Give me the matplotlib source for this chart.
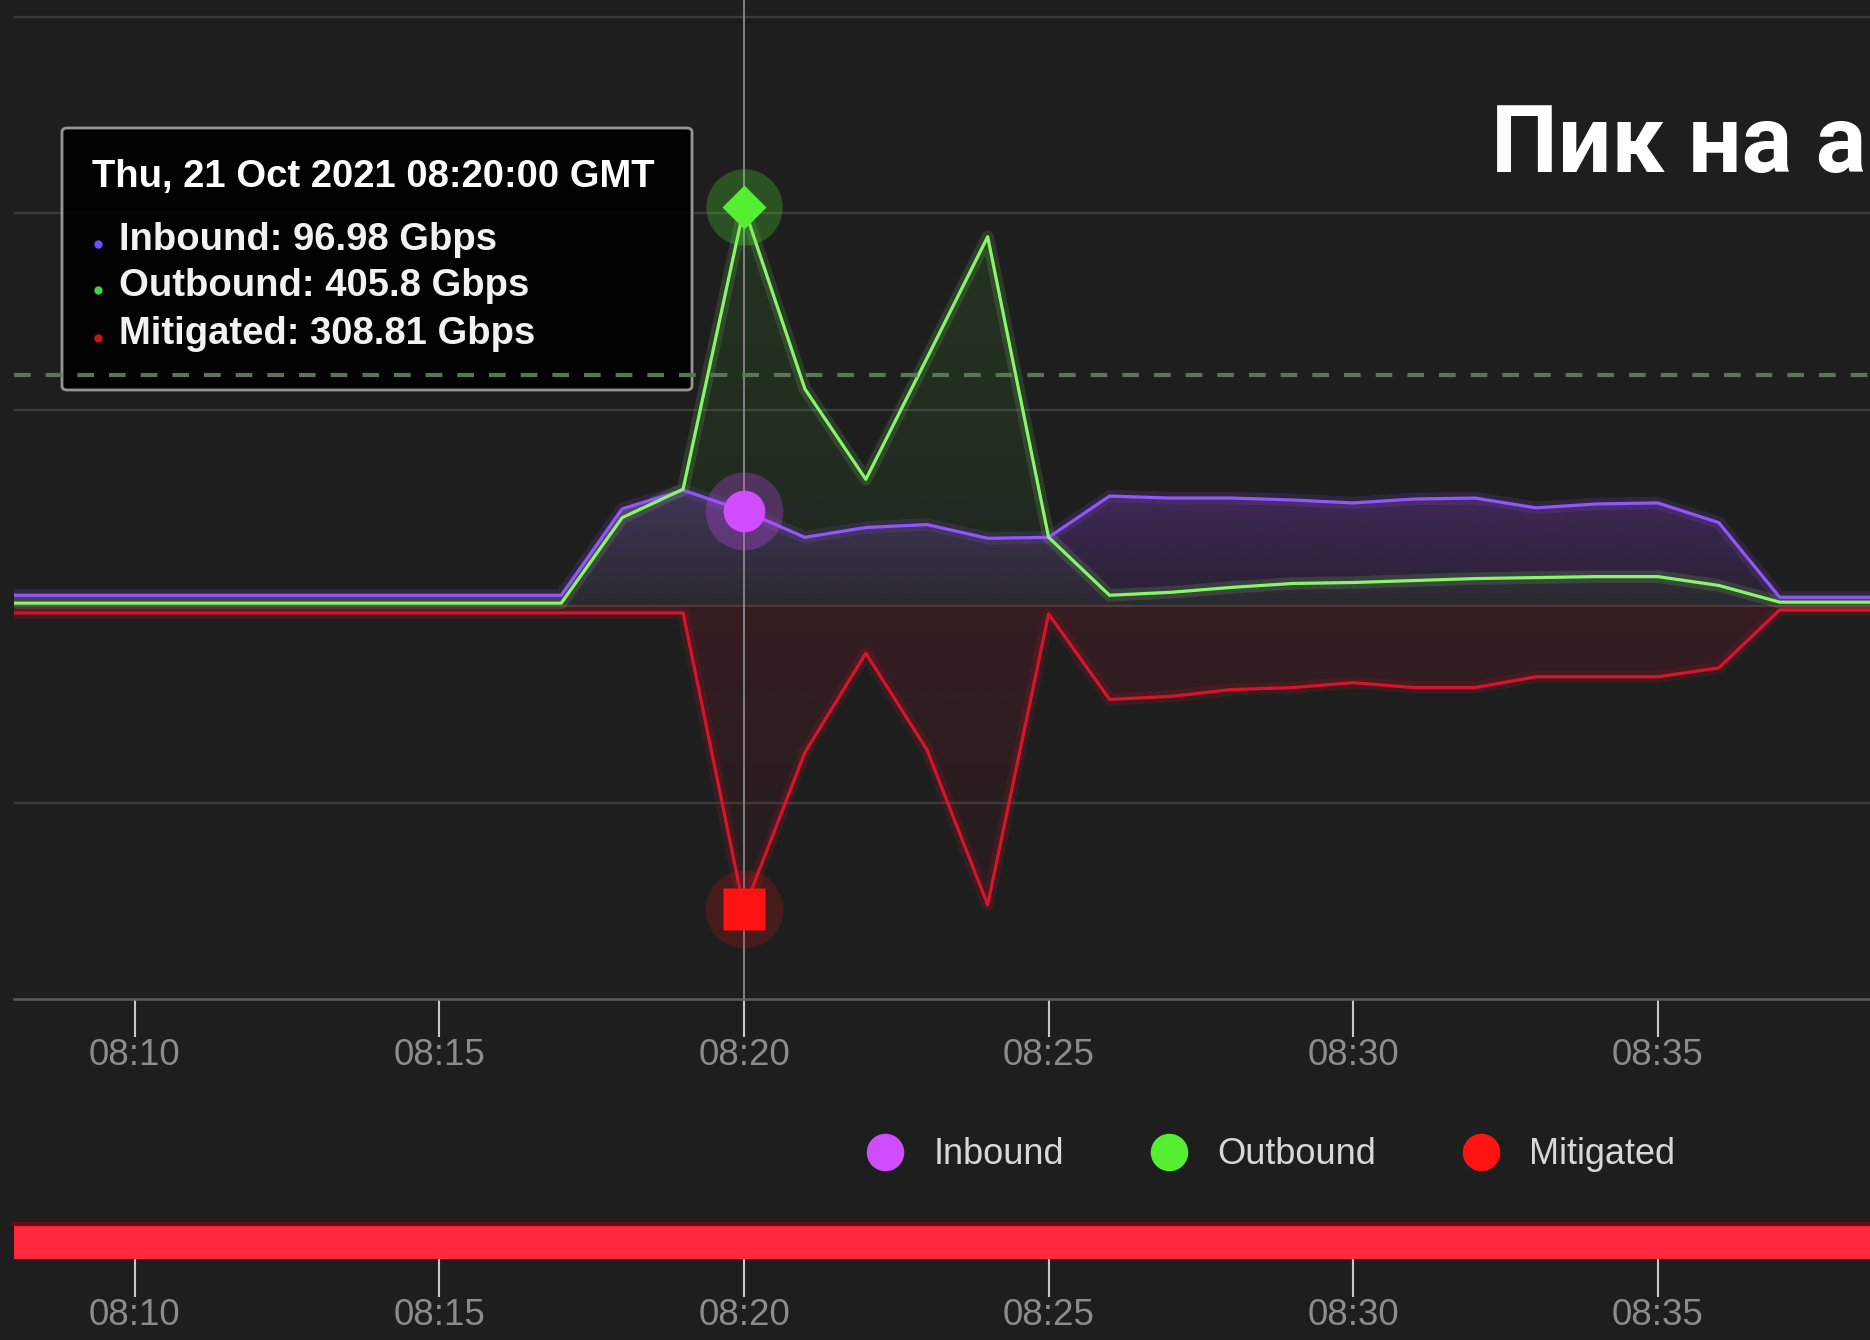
import numpy as np
import pandas as pd
import matplotlib
matplotlib.use("Agg")
import matplotlib.pyplot as plt
import matplotlib.dates as mdates
from matplotlib.colors import to_rgb
from matplotlib.lines import Line2D
from matplotlib.patches import FancyBboxPatch

plt.rcParams['font.family'] = ['Liberation Sans', 'DejaVu Sans']

# data (Gbps, one point per minute 08:08 .. 08:39)
times = pd.date_range("2021-10-21 08:08", "2021-10-21 08:39", freq="1min")
inbound = [11, 11, 11, 11, 11, 11, 11, 11, 11, 11,
           99, 118, 96.98, 70, 80, 83, 69, 70,
           112, 110, 110, 108, 105, 109, 110, 100, 104, 105, 85, 9, 9, 9]
outbound = [3, 3, 3, 3, 3, 3, 3, 3, 3, 3,
            90, 119, 405.8, 221, 129, 252, 376, 70,
            11, 14, 19, 23, 24, 26, 28, 29, 30, 30, 21, 4, 4, 4]
mitigated = [7, 7, 7, 7, 7, 7, 7, 7, 7, 7, 7, 7,
             308.81, 149, 48, 146, 304, 8,
             95, 92, 85, 83, 78, 83, 83, 72, 72, 72, 63, 4, 4, 4]
threshold = 235
hover_time = pd.Timestamp("2021-10-21 08:20")
series_names = ["Inbound", "Outbound", "Mitigated"]
tooltip_title = "Thu, 21 Oct 2021 08:20:00 GMT"
headline = "Пик на а"

BG = '#1e1e1e'
C_IN = '#9157f7'
C_OUT = '#8af56c'
C_MIT = '#d8142c'
M_IN = '#cf4cff'
M_OUT = '#55ee33'
M_MIT = '#ff1212'

W, H = 1870, 1340


def fx(px):
    return px / W


def fy(py):
    return 1 - py / H


def grad_fill(ax, x, y, color, a_far, a_zero, z):
    y = np.asarray(y, dtype=float)
    poly = ax.fill_between(x, 0, y, facecolor='none', edgecolor='none', lw=0)
    lo, hi = min(0, y.min()), max(0, y.max())
    vals = np.linspace(lo, hi, 256)
    frac = np.abs(vals) / max(abs(lo), abs(hi))
    img = np.zeros((256, 1, 4))
    img[..., :3] = to_rgb(color)
    img[:, 0, 3] = a_zero + (a_far - a_zero) * frac
    im = ax.imshow(img, extent=[x[0], x[-1], lo, hi], origin='lower',
                   aspect='auto', zorder=z, interpolation='bilinear')
    im.set_clip_path(poly.get_paths()[0], transform=ax.transData)


fig = plt.figure(figsize=(W / 100, H / 100), dpi=100, facecolor=BG)
ax = fig.add_axes([fx(14), fy(999), 1 - fx(14), 999 / H])
ax.set_facecolor(BG)

x = mdates.date2num(times)
mit_neg = [-v for v in mitigated]

grad_fill(ax, x, mit_neg, C_MIT, 0.03, 0.13, 2)
grad_fill(ax, x, inbound, '#8a3fd8', 0.32, 0.10, 2)
grad_fill(ax, x, outbound, '#4fc43a', 0.13, 0.06, 2)

# grid + crosshair
ax.set_yticks([-200, 0, 200, 400, 600])
ax.grid(axis='y', color='#3b3b3b', lw=1.6, zorder=1)
ax.grid(axis='x', visible=False)
ax.set_axisbelow(True)
ax.axvline(hover_time, color='#8a8a8a', lw=1.3, zorder=3)

# lines with a soft glow
for vals, c in [(mit_neg, C_MIT), (inbound, C_IN), (outbound, C_OUT)]:
    ax.plot(x, vals, color=c, lw=9, alpha=0.14, zorder=4, solid_joinstyle='round')
    ax.plot(x, vals, color=c, lw=2.3, zorder=5, solid_joinstyle='round')

# hover markers
i20 = list(times).index(hover_time)
ax.plot(hover_time, outbound[i20], 'o', ms=55, color=M_OUT, alpha=0.25, mec='none', zorder=6)
ax.plot(hover_time, outbound[i20], 'D', ms=22, color=M_OUT, mec='none', zorder=7)
ax.plot(hover_time, inbound[i20], 'o', ms=56, color=M_IN, alpha=0.28, mec='none', zorder=6)
ax.plot(hover_time, inbound[i20], 'o', ms=30, color=M_IN, mec='none', zorder=7)
ax.plot(hover_time, -mitigated[i20], 'o', ms=56, color=M_MIT, alpha=0.18, mec='none', zorder=6)
ax.plot(hover_time, -mitigated[i20], 's', ms=30, color=M_MIT, mec='none', zorder=7)

# threshold line
ax.axhline(threshold, color='#5a7556', lw=3, dashes=(4, 3.6), zorder=9)

ax.set_xlim(pd.Timestamp("2021-10-21 08:08:01"), pd.Timestamp("2021-10-21 08:38:29"))
ax.set_ylim(-400, 617)
ax.xaxis.set_major_locator(mdates.MinuteLocator(byminute=range(0, 60, 5)))
ax.xaxis.set_major_formatter(mdates.DateFormatter('%H:%M'))
ax.tick_params(axis='x', direction='out', length=27, width=1.5, color='#c8c8c8',
               labelcolor='#8c8c8c', labelsize=26.5, pad=1)
ax.tick_params(axis='y', left=False, labelleft=False)
for s in ['top', 'left', 'right']:
    ax.spines[s].set_visible(False)
ax.spines['bottom'].set_color('#5c5c5c')
ax.spines['bottom'].set_linewidth(1.8)

# tooltip
box = FancyBboxPatch((fx(62), fy(390)), fx(692) - fx(62), (390 - 128) / H,
                     boxstyle='round,pad=0,rounding_size=0.003',
                     transform=fig.transFigure, facecolor='black', alpha=0.93,
                     edgecolor='#a0a0a0', lw=2, zorder=8)
ax.add_artist(box)
fig.text(fx(92), fy(177), tooltip_title, color='white', fontsize=27.5,
         weight='bold', va='center', zorder=10)
tip_rows = [(series_names[0], inbound[i20], '#6e4cff', 240),
            (series_names[1], outbound[i20], '#3ed63e', 286),
            (series_names[2], mitigated[i20], '#d0101a', 334)]
for name, val, c, ypx in tip_rows:
    fig.text(fx(119), fy(ypx), f"{name}: {val:g} Gbps", color='#f2f2f2',
             fontsize=27.5, weight='bold', va='center', zorder=10)
    fig.add_artist(Line2D([fx(98)], [fy(ypx + 4)], marker='o', ms=6, color=c,
                          mec='none', transform=fig.transFigure))

# headline (cut at the right edge in the screenshot; kept fully inside here)
fig.text(fx(1866), fy(172), headline, color='white', fontsize=68,
         weight='bold', family=['Roboto', 'DejaVu Sans'], va='baseline', ha='right')

# legend
handles = [Line2D([], [], ls='none', marker='o', ms=27, color=c, mec='none')
           for c in [M_IN, M_OUT, M_MIT]]
fig.legend(handles, series_names, loc='center', bbox_to_anchor=(fx(1271), fy(1155)),
           ncol=3, frameon=False, prop={'family': 'Liberation Sans', 'size': 26},
           labelcolor='#d8d8d8', handlelength=1.0, handletextpad=0.85,
           columnspacing=2.4)

# navigator strip
nav = fig.add_axes([fx(14), fy(1259), 1 - fx(14), (1259 - 1224) / H])
nav.set_facecolor('#ff283c')
nav.set_xlim(ax.get_xlim())
nav.set_yticks([])
nav.xaxis.set_major_locator(mdates.MinuteLocator(byminute=range(0, 60, 5)))
nav.xaxis.set_major_formatter(mdates.DateFormatter('%H:%M'))
nav.tick_params(axis='x', direction='out', length=27, width=1.5, color='#c8c8c8',
                labelcolor='#8c8c8c', labelsize=26.5, pad=1)
for s in ['bottom', 'left', 'right']:
    nav.spines[s].set_visible(False)
nav.spines['top'].set_color('#6a0a14')
nav.spines['top'].set_linewidth(3)

fig.savefig("out.png", dpi=100, facecolor=BG)
